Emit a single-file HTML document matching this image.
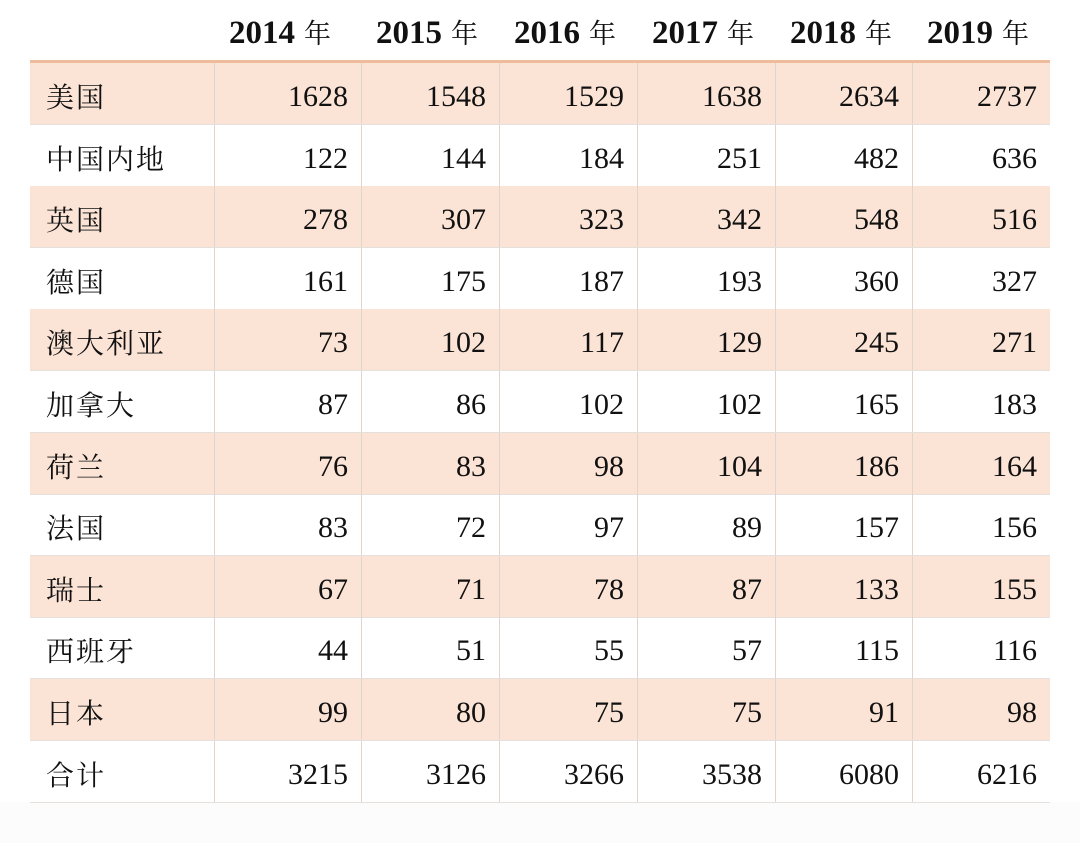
<!DOCTYPE html>
<html><head><meta charset="utf-8"><style>
body{margin:0;width:1080px;height:843px;background:#fff;position:relative;overflow:hidden;font-family:"Liberation Serif","Noto Serif CJK SC",serif;color:#111}
.h{position:absolute;top:12px;height:40px;font-weight:bold;font-size:33px;text-align:left;line-height:40px;padding-left:15px;box-sizing:border-box;white-space:nowrap}
.h span{font-weight:normal;font-family:"Noto Serif CJK SC",serif;font-size:27px;margin-left:9px}
.r{position:absolute;left:30px;width:1020px;height:61px;border-bottom:1px solid #e6e0dc}
.s{background:#fbe3d6}
.c{position:absolute;top:0;height:61px;line-height:68px;font-size:30px;text-align:right;border-left:1px solid #e0d4cc}
.c1{left:184px;width:133px}.c2{left:331px;width:124px}.c3{left:469px;width:124px}.c4{left:607px;width:124px}.c5{left:745px;width:123px}.c6{left:882px;width:124px}
.n{position:absolute;left:16px;top:0;line-height:66px;font-size:28px;font-family:"Noto Serif CJK SC",serif;letter-spacing:2px}
</style></head><body>
<div style="position:absolute;left:0;top:802px;width:1080px;height:41px;background:#fcfcfc"></div>
<div class="h" style="left:214px;width:147px">2014<span>年</span></div>
<div class="h" style="left:361px;width:138px">2015<span>年</span></div>
<div class="h" style="left:499px;width:138px">2016<span>年</span></div>
<div class="h" style="left:637px;width:138px">2017<span>年</span></div>
<div class="h" style="left:775px;width:137px">2018<span>年</span></div>
<div class="h" style="left:912px;width:138px">2019<span>年</span></div>
<div style="position:absolute;left:30px;top:60px;width:1020px;height:3px;background:#eebb9c"></div>

<div class="r s" style="top:63px"><div class="n">美国</div><div class="c c1">1628</div><div class="c c2">1548</div><div class="c c3">1529</div><div class="c c4">1638</div><div class="c c5">2634</div><div class="c c6">2737</div></div>
<div class="r" style="top:125px"><div class="n">中国内地</div><div class="c c1">122</div><div class="c c2">144</div><div class="c c3">184</div><div class="c c4">251</div><div class="c c5">482</div><div class="c c6">636</div></div>
<div class="r s" style="top:186px"><div class="n">英国</div><div class="c c1">278</div><div class="c c2">307</div><div class="c c3">323</div><div class="c c4">342</div><div class="c c5">548</div><div class="c c6">516</div></div>
<div class="r" style="top:248px"><div class="n">德国</div><div class="c c1">161</div><div class="c c2">175</div><div class="c c3">187</div><div class="c c4">193</div><div class="c c5">360</div><div class="c c6">327</div></div>
<div class="r s" style="top:309px"><div class="n">澳大利亚</div><div class="c c1">73</div><div class="c c2">102</div><div class="c c3">117</div><div class="c c4">129</div><div class="c c5">245</div><div class="c c6">271</div></div>
<div class="r" style="top:371px"><div class="n">加拿大</div><div class="c c1">87</div><div class="c c2">86</div><div class="c c3">102</div><div class="c c4">102</div><div class="c c5">165</div><div class="c c6">183</div></div>
<div class="r s" style="top:433px"><div class="n">荷兰</div><div class="c c1">76</div><div class="c c2">83</div><div class="c c3">98</div><div class="c c4">104</div><div class="c c5">186</div><div class="c c6">164</div></div>
<div class="r" style="top:494px"><div class="n">法国</div><div class="c c1">83</div><div class="c c2">72</div><div class="c c3">97</div><div class="c c4">89</div><div class="c c5">157</div><div class="c c6">156</div></div>
<div class="r s" style="top:556px"><div class="n">瑞士</div><div class="c c1">67</div><div class="c c2">71</div><div class="c c3">78</div><div class="c c4">87</div><div class="c c5">133</div><div class="c c6">155</div></div>
<div class="r" style="top:617px"><div class="n">西班牙</div><div class="c c1">44</div><div class="c c2">51</div><div class="c c3">55</div><div class="c c4">57</div><div class="c c5">115</div><div class="c c6">116</div></div>
<div class="r s" style="top:679px"><div class="n">日本</div><div class="c c1">99</div><div class="c c2">80</div><div class="c c3">75</div><div class="c c4">75</div><div class="c c5">91</div><div class="c c6">98</div></div>
<div class="r" style="top:741px"><div class="n">合计</div><div class="c c1">3215</div><div class="c c2">3126</div><div class="c c3">3266</div><div class="c c4">3538</div><div class="c c5">6080</div><div class="c c6">6216</div></div>
</body></html>
